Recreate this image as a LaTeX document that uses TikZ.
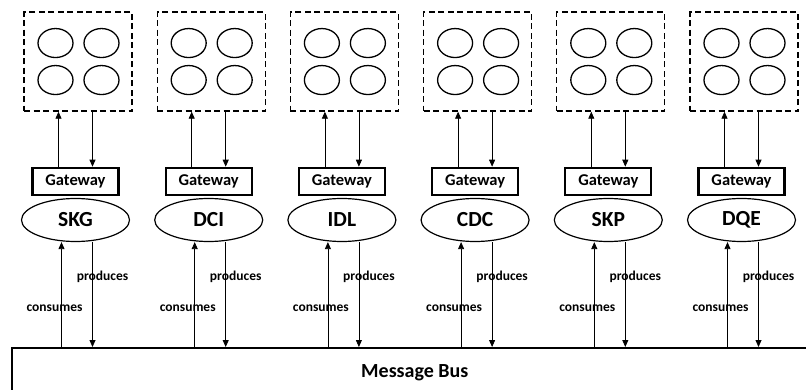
\documentclass[tikz,border=0pt]{standalone}
\usepackage{fontspec}
\setmainfont{Carlito}
\usetikzlibrary{positioning}
\usetikzlibrary{arrows.meta}
\usetikzlibrary{shapes.geometric}

\begin{document}
\begin{tikzpicture}[x=1pt,y=-1pt,>={Triangle[length=7pt,width=6pt]},font=\bfseries,
	svc/.style={ellipse,draw,line width=1.2pt,minimum width=108pt,minimum height=43pt,inner sep=0pt,font=\bfseries\fontsize{21.5}{21.5}\selectfont},
	gw/.style={rectangle,draw,line width=2.2pt,minimum width=86pt,minimum height=27pt,inner sep=0pt,font=\bfseries\fontsize{16.5}{16.5}\selectfont},
	pool/.style={rectangle,draw,line width=1.3pt,dash pattern=on 6pt off 3.5pt,minimum width=108pt,minimum height=99pt,inner sep=0pt},
	cell/.style={ellipse,draw,line width=1.3pt,minimum width=35pt,minimum height=29pt,inner sep=0pt},
	lbl/.style={font=\bfseries\fontsize{13.5}{13.5}\selectfont,inner sep=0pt},
	link/.style={->,line width=0.8pt},
	bus/.style={rectangle,draw,line width=1.6pt,anchor=north west,minimum width=806pt,minimum height=50pt,inner sep=0pt,font=\bfseries\fontsize{20}{20}\selectfont}]
	
	\useasboundingbox (0,0) rectangle (806,390);
	
	\node[bus] (bus) at (11,347) {Message Bus};
	
	\foreach \nm [count=\i from 0] in {SKG,DCI,IDL,CDC,SKP,DQE} {
		\node[svc] (s\i) at (75.5+133.2*\i,220) {\nm};
		\node[gw] (g\i) [above=2pt of s\i] {Gateway};
		\node[pool] (b\i) [above=55pt of g\i,xshift=2.5pt] {};
		\path (b\i) ++(-22.5,-18.5) node[cell] {} ++(46,0) node[cell] {}
			++(0,37) node[cell] {} ++(-46,0) node[cell] {};
		
		% gateway <-> pool
		\coordinate (gu\i) at ([xshift=-17pt]g\i.north);
		\coordinate (gd\i) at ([xshift=17pt]g\i.north);
		\draw[link] (gu\i) -- (gu\i |- b\i.south);
		\draw[link] (gd\i |- b\i.south) -- (gd\i);
		
		% service <-> bus
		\coordinate (su\i) at ([xshift=-14pt]s\i.south);
		\coordinate (sd\i) at ([xshift=17pt]s\i.south);
		\draw[link] (su\i |- bus.north) -- (su\i);
		\draw[link] (sd\i) -- (sd\i |- bus.north);
		\path (s\i) ++(27,57) node[lbl] {produces};
		\path (s\i) ++(-21,88) node[lbl] {consumes};
	}
\end{tikzpicture}
\end{document}
